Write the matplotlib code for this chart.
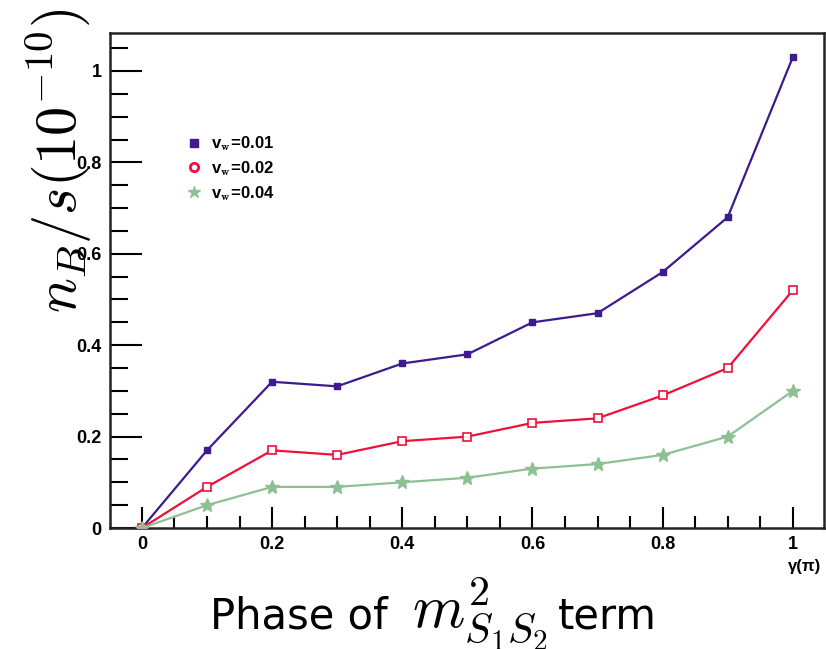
import matplotlib
matplotlib.use('Agg')
import matplotlib.pyplot as plt
from matplotlib.lines import Line2D
from matplotlib.ticker import MultipleLocator

# phase of the m^2_{S1S2} term, in units of pi
gamma = [0.0, 0.1, 0.2, 0.3, 0.4, 0.5, 0.6, 0.7, 0.8, 0.9, 1.0]

# baryon asymmetry n_B/s (x 1e-10) for three wall velocities
nb_vw001 = [0.0, 0.17, 0.32, 0.31, 0.36, 0.38, 0.45, 0.47, 0.56, 0.68, 1.03]
nb_vw002 = [0.0, 0.09, 0.17, 0.16, 0.19, 0.20, 0.23, 0.24, 0.29, 0.35, 0.52]
nb_vw004 = [0.0, 0.05, 0.09, 0.09, 0.10, 0.11, 0.13, 0.14, 0.16, 0.20, 0.30]

labels = [r'v$_{\mathbf{w}}$=0.01', r'v$_{\mathbf{w}}$=0.02', r'v$_{\mathbf{w}}$=0.04']
colors = ['#3d1a8e', '#f0103a', '#8fc095']

plt.rcParams['font.family'] = ['Liberation Sans', 'DejaVu Sans']
plt.rcParams['mathtext.fontset'] = 'cm'


def tick_fmt(v, pos):
    if abs(v) < 1e-9:
        return '0'
    if abs(v - 1) < 1e-9:
        return '1'
    return f'{v:.1f}'


fig = plt.figure(figsize=(8.26, 6.49), dpi=100)
ax = fig.add_axes([0.1332, 0.1864, 0.8644, 0.7627])

ax.plot(gamma, nb_vw001, color=colors[0], lw=1.6, marker='s', ms=5,
        mfc=colors[0], mec=colors[0], zorder=3)
ax.plot(gamma, nb_vw002, color=colors[1], lw=1.6, marker='s', ms=6,
        mfc='white', mec=colors[1], mew=1.2, zorder=3)
ax.plot(gamma, nb_vw004, color=colors[2], lw=1.6, marker='*', ms=10,
        mfc=colors[2], mec=colors[2], zorder=3)

ax.set_xlim(-0.049, 1.048)
ax.set_ylim(0, 1.083)

ax.xaxis.set_major_locator(MultipleLocator(0.2))
ax.xaxis.set_minor_locator(MultipleLocator(0.05))
ax.yaxis.set_major_locator(MultipleLocator(0.2))
ax.yaxis.set_minor_locator(MultipleLocator(0.05))
ax.xaxis.set_major_formatter(plt.FuncFormatter(tick_fmt))
ax.yaxis.set_major_formatter(plt.FuncFormatter(tick_fmt))

ax.tick_params(axis='both', which='both', direction='in', top=False, right=False,
               width=1.5, labelsize=13)
ax.tick_params(axis='y', which='major', length=23, pad=6)
ax.tick_params(axis='y', which='minor', length=13)
ax.tick_params(axis='x', which='major', length=15, pad=6)
ax.tick_params(axis='x', which='minor', length=9)
for lab in ax.get_xticklabels() + ax.get_yticklabels():
    lab.set_fontweight('bold')
for sp in ax.spines.values():
    sp.set_linewidth(1.8)
    sp.set_color('#222222')

# x axis unit at the right end
ax.text(1.018, -0.077, 'γ(π)', transform=ax.get_xaxis_transform(),
        ha='center', va='center', fontsize=12, fontweight='bold')

# x title: sans text with a larger math part in between
fig.canvas.draw()
renderer = fig.canvas.get_renderer()
base_y = 0.032
x_px = 210
pieces = [
    ('Phase of', 30, 24, 'DejaVu Sans'),
    (r'$m^2_{S_1S_2}$', 43, 10, None),
    ('term', 30, 0, 'DejaVu Sans'),
]
for txt, size, gap, fam in pieces:
    kw = {'family': fam} if fam else {}
    t = fig.text(x_px / 826, base_y, txt, ha='left', va='baseline', fontsize=size, **kw)
    bb = t.get_window_extent(renderer)
    x_px = bb.x1 + gap

fig.text(0.072, 0.752, r'$n_B/s(10^{-10})$', rotation=90, ha='center', va='center',
         fontsize=42)

# legend
handles = [
    Line2D([], [], ls='none', marker='s', ms=6, color=colors[0]),
    Line2D([], [], ls='none', marker='o', ms=6, mfc='white', mec=colors[1], mew=2),
    Line2D([], [], ls='none', marker='*', ms=9, color=colors[2]),
]
leg = ax.legend(handles, labels, loc='upper left', bbox_to_anchor=(0.085, 0.825),
                frameon=False, handlelength=1.0, handletextpad=0.5,
                labelspacing=0.35, prop={'weight': 'bold', 'size': 12})

fig.savefig('out.png', dpi=100)
